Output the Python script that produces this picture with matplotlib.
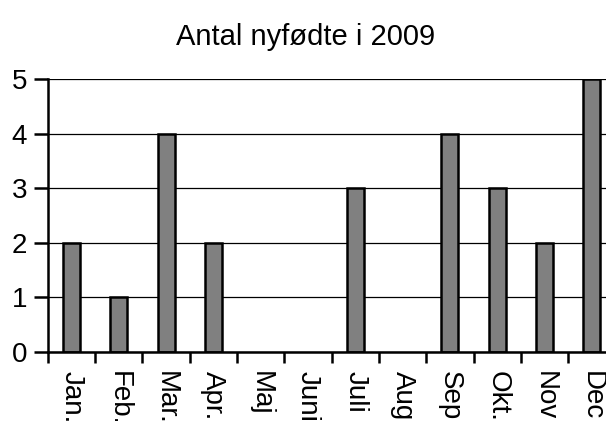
import matplotlib
matplotlib.use('Agg')
import matplotlib.pyplot as plt
import numpy as np

months = ['Jan.', 'Feb.', 'Mar.', 'Apr.', 'Maj', 'Juni', 'Juli', 'Aug', 'Sep', 'Okt.', 'Nov', 'Dec']
births = [2, 1, 4, 2, 0, 0, 3, 0, 4, 3, 2, 5]
y_ticks = [0, 1, 2, 3, 4, 5]

plt.rcParams['font.family'] = ['Liberation Sans', 'DejaVu Sans']

fig = plt.figure(figsize=(6.06, 4.21), dpi=100, facecolor='white')
ax = fig.add_axes([0.079, 0.164, 0.9366, 0.648])

x = np.arange(len(months))
# empty months get no outline, like the original
edges = ['black' if v > 0 else 'none' for v in births]
ax.bar(x, births, width=0.36, color='#808080', edgecolor=edges, linewidth=1.8, zorder=2)

ax.set_xlim(-0.5, len(months) - 0.5)
ax.set_ylim(0, 5)
ax.set_yticks(y_ticks)
ax.set_yticklabels([str(v) for v in y_ticks], fontsize=20)
ax.yaxis.grid(True, color='black', linewidth=0.9, zorder=0)
ax.set_axisbelow(True)

# category labels at centres, tick marks between categories
ax.set_xticks(x)
ax.set_xticklabels(months, rotation=270, fontsize=20, va='top', ha='center')
ax.tick_params(axis='x', which='major', length=0, pad=14)
ax.set_xticks(np.arange(-0.5, len(months), 1), minor=True)
ax.tick_params(axis='x', which='minor', length=8, width=1.8, direction='out')
ax.tick_params(axis='y', length=10, width=1.8, direction='out', pad=5)

for side in ['top', 'right']:
    ax.spines[side].set_visible(False)
for side in ['left', 'bottom']:
    ax.spines[side].set_linewidth(1.8)
    ax.spines[side].set_zorder(3)

fig.text(0.505, 0.912, 'Antal nyfødte i 2009', ha='center', va='center', fontsize=21)

fig.savefig('out.png', dpi=100)
